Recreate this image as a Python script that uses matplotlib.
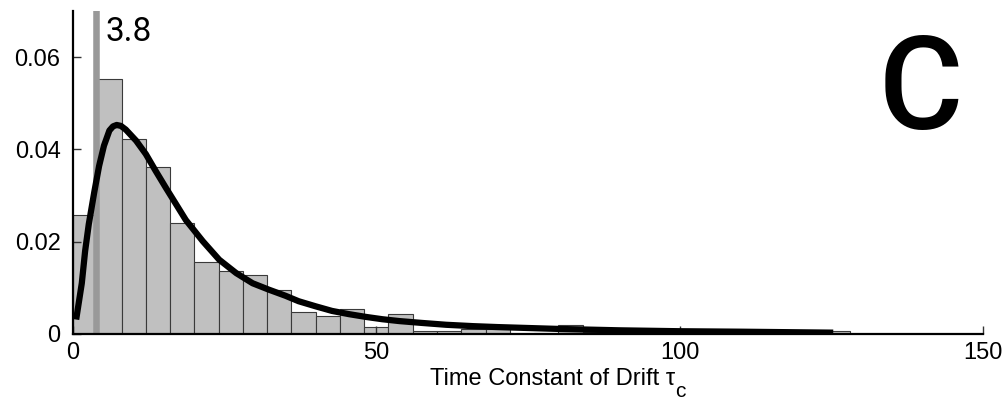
#!/usr/bin/env python3
# Histogram of drift time constants with fitted density curve (panel C)

from matplotlib import pyplot as plt
import numpy as np

# histogram: bins of width 4 starting at 0
bin_start = 0
bin_width = 4
bar_heights = [0.0257, 0.0552, 0.0422, 0.0362, 0.0241, 0.0155, 0.0136, 0.0128,
               0.0095, 0.0047, 0.0039, 0.0055, 0.0015, 0.0044, 0.0007, 0.0007,
               0.0010, 0.0010, 0.0, 0.0003, 0.0020, 0.0005, 0.0003, 0.0003,
               0.0, 0.0003, 0.0, 0.0003, 0.0, 0.0, 0.0, 0.0007]

# fitted density
curve_x = [0.6, 1.45, 2.0, 2.6, 3.5, 4.3, 5.1, 6.0, 6.6, 7.2, 7.9, 8.7, 10.4,
           12.0, 13.6, 15.3, 17.0, 18.6, 21.4, 24.1, 26.9, 29.6, 32.3, 35.0,
           37.2, 40.0, 42.7, 45.5, 48.3, 51.0, 53.8, 57.5, 61.5, 66.0, 70.0,
           75.0, 80.0, 90.0, 100.0, 110.0, 124.8]
curve_y = [0.0038, 0.0110, 0.0180, 0.0238, 0.0307, 0.0364, 0.0408, 0.0441,
           0.0450, 0.0453, 0.0451, 0.0443, 0.0419, 0.0390, 0.0354, 0.0317,
           0.0281, 0.0247, 0.0201, 0.0161, 0.0132, 0.0110, 0.0096, 0.0083,
           0.0071, 0.0060, 0.0050, 0.0043, 0.0037, 0.0032, 0.0028, 0.0024,
           0.0020, 0.0017, 0.0015, 0.0013, 0.0011, 0.0008, 0.0006, 0.0005,
           0.0003]

marker_value = 3.8
x_ticks = [0, 50, 100, 150]
y_ticks = [0, 0.02, 0.04, 0.06]
y_tick_labels = ['0', '0.02', '0.04', '0.06']

plt.rcParams['font.family'] = 'Liberation Sans'

fig = plt.figure(figsize=(10.05, 4.0), dpi=100)
ax = fig.add_axes([73 / 1005, 66 / 400, 910 / 1005, 323 / 400])

lefts = bin_start + bin_width * np.arange(len(bar_heights))
ax.bar(lefts, bar_heights, width=bin_width, align='edge', color='#c0c0c0',
       edgecolor='#3a3a3a', linewidth=0.8, zorder=1)
ax.axvline(marker_value, color='#999999', linewidth=4.7, zorder=2)
ax.plot(curve_x, curve_y, color='black', linewidth=4.5, zorder=3,
        solid_joinstyle='round')

ax.text(5.4, 0.0636, '{:.1f}'.format(marker_value), family='Roboto',
        fontsize=24, ha='left', va='baseline')
fig.text(920.5 / 1005, 271 / 400, 'C', family='Roboto', fontweight='medium',
         fontsize=93, ha='center', va='baseline')

ax.set_xlim(0, 150)
ax.set_ylim(0, 0.07)
ax.set_xticks(x_ticks)
ax.set_xticklabels([str(t) for t in x_ticks])
ax.set_yticks(y_ticks)
ax.set_yticklabels(y_tick_labels)
ax.tick_params(direction='in', length=6, width=1, labelsize=17, pad=6,
               color='#333333')
ax.tick_params(axis='y', pad=9)
for side in ['top', 'right']:
    ax.spines[side].set_visible(False)
for side in ['left', 'bottom']:
    ax.spines[side].set_linewidth(1.6)

# axis label with a large subscript, as in the original
fig.text(430 / 1005, (400 - 385) / 400, 'Time Constant of Drift \u03c4',
         fontsize=17, ha='left', va='baseline')
fig.text(675 / 1005, (400 - 397) / 400, 'c', fontsize=15, ha='left',
         va='baseline')

fig.savefig('out.png', dpi=100)
